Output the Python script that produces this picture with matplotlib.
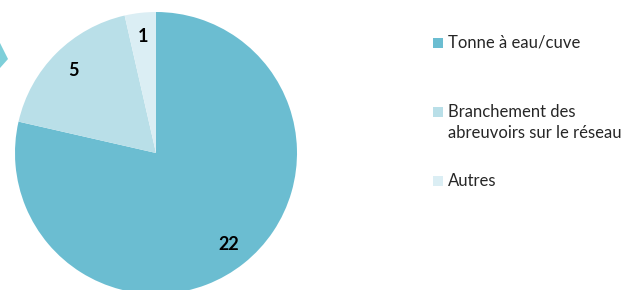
import matplotlib
matplotlib.use('Agg')
import matplotlib.pyplot as plt
from matplotlib.patches import Rectangle, Polygon

# data
labels = ['Tonne à eau/cuve', 'Branchement des\nabreuvoirs sur le réseau', 'Autres']
values = [22, 5, 1]
colors = ['#6bbdd1', '#b9dfe8', '#dbeef4']

W, H = 643, 290
fig = plt.figure(figsize=(W / 100, H / 100), dpi=100)
ax = fig.add_axes([0, 0, 1, 1])

# pie in pixel units (y flipped)
cx, cy, r = 156, H - 153, 141
wedges, texts, autotexts = ax.pie(
    values, colors=colors, startangle=90, counterclock=False,
    center=(cx, cy), radius=r, pctdistance=0.83, frame=True,
    autopct=lambda p: '%d' % round(p * sum(values) / 100),
    wedgeprops={'linewidth': 0})
ax.set_xlim(0, W)
ax.set_ylim(0, H)
ax.set_aspect('equal')
ax.axis('off')
for t in autotexts:
    t.set_fontfamily('Lato')
    t.set_fontweight('bold')
    t.set_fontsize(13)
    t.set_color('black')

# decorative chevron tip at left edge
ax.add_patch(Polygon([(0, H - 43), (8, H - 59), (0, H - 68)], closed=True,
                     color='#7ecfd9', lw=0))

# legend, drawn by hand (one text per line so the square sits on line 1)
leg_y = [43, 112, 181]
for lab, col, y in zip(labels, colors, leg_y):
    ax.add_patch(Rectangle((433, H - y - 5), 10, 10, color=col, lw=0))
    for i, line in enumerate(lab.split('\n')):
        ax.text(448, H - y - 5 - 21 * i, line, fontsize=12, fontfamily='Lato',
                color='#262626', va='baseline', ha='left')

fig.savefig('out.png', dpi=100)
